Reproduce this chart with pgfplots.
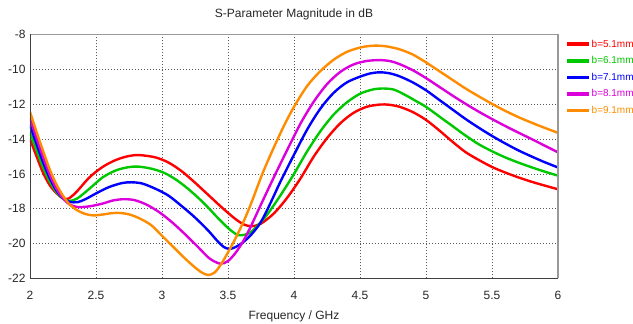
\documentclass[border=0pt]{standalone}
\usepackage{fontspec}
\setmainfont{Liberation Sans}
\usepackage{pgfplots}
\pgfplotsset{compat=1.18}
\definecolor{cred}{RGB}{255,0,0}
\definecolor{cgreen}{RGB}{0,200,0}
\definecolor{cblue}{RGB}{0,0,255}
\definecolor{cpink}{RGB}{220,0,220}
\definecolor{corange}{RGB}{255,140,0}
\begin{document}
\begin{tikzpicture}
\path[use as bounding box] (0,0) rectangle (633pt,324pt);
\begin{axis}[
  name=ax,
  at={(30pt,45.5pt)}, anchor=south west,
  scale only axis, width=528pt, height=244pt,
  xmin=2, xmax=6, ymin=-22, ymax=-8,
  xtick={2,2.5,3,3.5,4,4.5,5,5.5,6},
  xticklabels={2,2.5,3,3.5,4,4.5,5,5.5,6},
  ytick={-22,-20,-18,-16,-14,-12,-10,-8},
  yticklabels={-22,-20,-18,-16,-14,-12,-10,-8},
  major tick length=0pt,
  tick label style={font=\fontsize{12}{14}\selectfont, text=black!85},
  xticklabel style={anchor=base, yshift=-21.5pt},
  yticklabel style={xshift=-1pt},
  axis line style={draw=none},
  grid=major,
  major grid style={black!65, line width=0.8pt, dash pattern=on 1pt off 2pt},
  title={S-Parameter Magnitude in dB},
  title style={at={(axis description cs:0.5,1)}, anchor=base, yshift=11pt, font=\fontsize{12}{14}\selectfont, text=black!85},
  xlabel={Frequency / GHz},
  xlabel style={at={(axis description cs:0.5,0)}, anchor=base, yshift=-41.5pt, font=\fontsize{12}{14}\selectfont, text=black!85},
  legend style={draw=none, fill=none, at={(axis description cs:1,1)}, anchor=north west,
    xshift=7pt, yshift=-3.5pt, inner sep=0pt, row sep=4.6pt,
    nodes={inner sep=1pt, text height=8pt, text depth=2pt, font=\fontsize{10}{12}\selectfont}},
  legend cell align=left,
  legend image code/.code={\draw[#1, line width=3.5pt] (0pt,0pt) -- (22pt,0pt);},
  every axis plot/.append style={line width=2.4pt, smooth, tension=0.5},
]
\addplot[cred] coordinates {
(2.00,-14.0) (2.05,-15.0) (2.10,-15.95) (2.15,-16.65) (2.20,-17.1) (2.25,-17.4) (2.29,-17.42)
(2.35,-17.05) (2.45,-16.2) (2.55,-15.6) (2.65,-15.2) (2.75,-14.97) (2.83,-14.92) (2.95,-15.05)
(3.05,-15.35) (3.15,-15.85) (3.25,-16.5) (3.35,-17.2) (3.45,-17.9) (3.55,-18.55) (3.62,-18.9)
(3.68,-19.0) (3.75,-18.85) (3.85,-18.25) (3.95,-17.35) (4.05,-16.25) (4.15,-15.0) (4.25,-13.95)
(4.35,-13.1) (4.45,-12.5) (4.55,-12.15) (4.65,-12.02) (4.72,-12.03) (4.80,-12.15) (4.90,-12.45)
(5.00,-12.9) (5.10,-13.5) (5.20,-14.15) (5.30,-14.75) (5.40,-15.2) (5.50,-15.6) (5.60,-15.92)
(5.70,-16.2) (5.80,-16.45) (5.90,-16.67) (6.00,-16.88)};
\addlegendentry{\textcolor{cred}{b=5.1mm}}
\addplot[cgreen] coordinates {
(2.00,-13.6) (2.05,-14.65) (2.10,-15.65) (2.15,-16.45) (2.20,-17.05) (2.25,-17.42) (2.30,-17.55)
(2.36,-17.4) (2.45,-16.85) (2.55,-16.2) (2.65,-15.8) (2.74,-15.62) (2.82,-15.58) (2.92,-15.7)
(3.02,-15.95) (3.12,-16.4) (3.22,-17.0) (3.32,-17.7) (3.42,-18.5) (3.50,-19.1) (3.56,-19.45)
(3.60,-19.52) (3.66,-19.4) (3.72,-19.0) (3.80,-18.3) (3.90,-17.2) (4.00,-16.0) (4.10,-14.7)
(4.20,-13.55) (4.30,-12.6) (4.40,-11.9) (4.50,-11.4) (4.60,-11.15) (4.68,-11.1) (4.76,-11.17)
(4.85,-11.5) (4.92,-11.8) (5.00,-12.15) (5.10,-12.7) (5.20,-13.25) (5.30,-13.8) (5.40,-14.3)
(5.50,-14.7) (5.60,-15.05) (5.70,-15.35) (5.80,-15.62) (5.90,-15.87) (6.00,-16.1)};
\addlegendentry{\textcolor{cgreen}{b=6.1mm}}
\addplot[cblue] coordinates {
(2.00,-13.2) (2.05,-14.3) (2.10,-15.35) (2.15,-16.25) (2.20,-16.95) (2.25,-17.4) (2.30,-17.6)
(2.36,-17.62) (2.42,-17.45) (2.50,-17.12) (2.60,-16.75) (2.70,-16.52) (2.77,-16.48) (2.85,-16.55)
(2.95,-16.85) (3.05,-17.25) (3.15,-17.85) (3.25,-18.5) (3.35,-19.25) (3.42,-19.85) (3.47,-20.2)
(3.51,-20.3) (3.55,-20.22) (3.61,-19.95) (3.68,-19.45) (3.75,-18.75) (3.82,-17.7) (3.90,-16.4)
(4.00,-14.9) (4.10,-13.45) (4.20,-12.25) (4.30,-11.35) (4.40,-10.75) (4.50,-10.42) (4.58,-10.23)
(4.65,-10.17) (4.72,-10.22) (4.80,-10.4) (4.90,-10.75) (5.00,-11.2) (5.10,-11.75) (5.20,-12.3)
(5.30,-12.85) (5.40,-13.35) (5.50,-13.82) (5.60,-14.25) (5.70,-14.65) (5.80,-15.0) (5.90,-15.33)
(6.00,-15.63)};
\addlegendentry{\textcolor{cblue}{b=7.1mm}}
\addplot[cpink] coordinates {
(2.00,-12.8) (2.05,-13.95) (2.10,-15.05) (2.15,-16.05) (2.20,-16.85) (2.25,-17.4) (2.30,-17.75)
(2.36,-17.9) (2.45,-17.86) (2.55,-17.7) (2.63,-17.52) (2.71,-17.45) (2.79,-17.5) (2.88,-17.75)
(2.98,-18.2) (3.08,-18.8) (3.18,-19.5) (3.28,-20.25) (3.36,-20.85) (3.44,-21.15) (3.50,-21.0)
(3.56,-20.5) (3.62,-19.8) (3.68,-18.9) (3.75,-17.75) (3.85,-16.15) (3.95,-14.6) (4.05,-13.1)
(4.15,-11.85) (4.25,-10.85) (4.35,-10.15) (4.45,-9.72) (4.55,-9.52) (4.65,-9.47) (4.73,-9.53)
(4.80,-9.7) (4.90,-10.05) (5.00,-10.5) (5.10,-11.0) (5.20,-11.5) (5.30,-11.98) (5.40,-12.43)
(5.50,-12.85) (5.60,-13.25) (5.70,-13.63) (5.80,-14.0) (5.90,-14.38) (6.00,-14.76)};
\addlegendentry{\textcolor{cpink}{b=8.1mm}}
\addplot[corange] coordinates {
(2.00,-12.44) (2.05,-13.6) (2.10,-14.7) (2.15,-15.75) (2.20,-16.6) (2.25,-17.25) (2.30,-17.75)
(2.36,-18.1) (2.42,-18.3) (2.48,-18.38) (2.55,-18.33) (2.62,-18.25) (2.68,-18.24) (2.75,-18.32)
(2.83,-18.55) (2.92,-18.95) (3.00,-19.55) (3.08,-20.15) (3.16,-20.75) (3.24,-21.3) (3.30,-21.65)
(3.35,-21.8) (3.40,-21.65) (3.45,-21.15) (3.50,-20.5) (3.55,-19.8) (3.62,-18.7) (3.68,-17.6)
(3.76,-16.0) (3.84,-14.6) (3.92,-13.3) (4.00,-12.15) (4.10,-10.95) (4.20,-10.1) (4.30,-9.45)
(4.40,-9.0) (4.50,-8.75) (4.57,-8.66) (4.63,-8.64) (4.70,-8.68) (4.80,-8.85) (4.90,-9.15)
(5.00,-9.6) (5.10,-10.1) (5.20,-10.6) (5.30,-11.1) (5.40,-11.55) (5.50,-11.98) (5.60,-12.38)
(5.70,-12.74) (5.80,-13.06) (5.90,-13.36) (6.00,-13.64)};
\addlegendentry{\textcolor{corange}{b=9.1mm}}
\end{axis}
\draw[black!40, line width=1.2pt] (ax.north west) -- (ax.north east) -- (ax.south east);
\draw[black!75, line width=0.9pt] (ax.north west) -- (ax.south west) -- (ax.south east);
\end{tikzpicture}
\end{document}
